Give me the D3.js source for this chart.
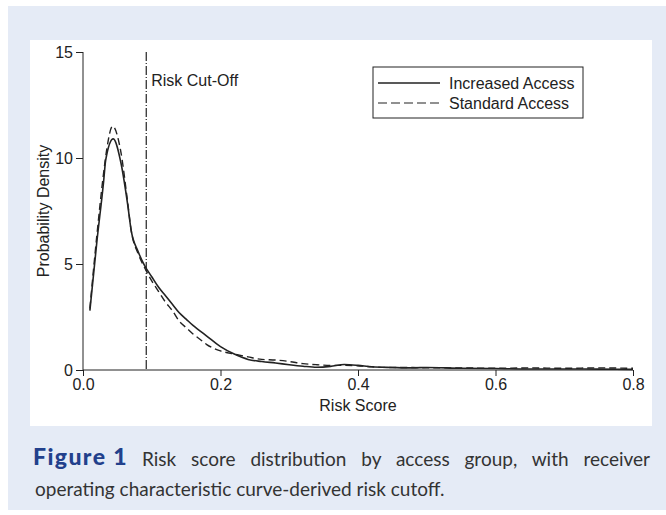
<!DOCTYPE html>
<html>
<head>
<meta charset="utf-8">
<script src="https://cdn.jsdelivr.net/npm/d3@7"></script>
<style>
	body { margin: 0; background: #fff; }
	.cap { position: absolute; font-family: Lato, "Open Sans", sans-serif; font-size: 19px; line-height: 24px; color: #333; white-space: nowrap; }
	.fig { left: 33px; top: 444px; color: #22408c; font-weight: 900; font-size: 23px; letter-spacing: 1.4px; }
	.line1 { left: 142px; top: 447px; width: 508px; text-align: justify; text-align-last: justify; white-space: normal; }
	.line2 { left: 35px; top: 477px; }
</style>
</head>
<body>
<div class="stimulus"></div>
<script>
// values
var incX = [0.01, 0.02, 0.03, 0.033, 0.044, 0.055, 0.065, 0.07, 0.08, 0.09, 0.1, 0.11, 0.12, 0.13, 0.14, 0.15, 0.16, 0.17, 0.18, 0.2, 0.22, 0.24, 0.26, 0.28, 0.3, 0.32, 0.34, 0.36, 0.38, 0.4, 0.42, 0.45, 0.48, 0.5, 0.55, 0.6, 0.65, 0.7, 0.75, 0.8];
var incY = [2.8, 6.0, 8.9, 9.9, 10.9, 9.8, 7.8, 6.6, 5.6, 4.9, 4.4, 3.9, 3.5, 3.1, 2.7, 2.4, 2.1, 1.85, 1.6, 1.1, 0.75, 0.5, 0.4, 0.33, 0.25, 0.18, 0.13, 0.17, 0.26, 0.22, 0.15, 0.12, 0.1, 0.12, 0.08, 0.07, 0.05, 0.05, 0.04, 0.03];
var stdX = [0.01, 0.02, 0.03, 0.035, 0.043, 0.055, 0.065, 0.07, 0.08, 0.09, 0.1, 0.11, 0.12, 0.13, 0.14, 0.15, 0.16, 0.17, 0.18, 0.2, 0.22, 0.24, 0.26, 0.28, 0.3, 0.32, 0.34, 0.36, 0.38, 0.4, 0.42, 0.45, 0.48, 0.5, 0.55, 0.6, 0.65, 0.7, 0.75, 0.8];
var stdY = [2.9, 6.3, 9.3, 10.5, 11.5, 10.3, 7.9, 6.6, 5.5, 4.8, 4.2, 3.7, 3.2, 2.8, 2.3, 2.0, 1.7, 1.45, 1.2, 0.9, 0.75, 0.62, 0.5, 0.47, 0.4, 0.3, 0.25, 0.22, 0.22, 0.2, 0.15, 0.12, 0.12, 0.1, 0.1, 0.08, 0.1, 0.08, 0.1, 0.08];
var cutOff = 0.092;
var xTicks = [0, 0.2, 0.4, 0.6, 0.8];
var yTicks = [0, 5, 10, 15];
var legendNames = ["Increased Access", "Standard Access"];
var captionLines = ["Risk score distribution by access group, with receiver", "operating characteristic curve-derived risk cutoff."];

var W = 666, H = 515;
var stage = d3.select(".stimulus").insert("svg")
			  .attr("width", W)
			  .attr("height", H)
			  .style("position", "absolute")
			  .style("left", 0).style("top", 0);

// page background + white panel
stage.append("rect").attr("x", 8).attr("y", 6).attr("width", W - 8).attr("height", 504).style("fill", "#e5ebf6");
stage.append("rect").attr("x", 30).attr("y", 40).attr("width", 622).attr("height", 386).style("fill", "#fff");

var x = d3.scaleLinear().domain([0, 0.8]).range([83, 633]);
var y = d3.scaleLinear().domain([0, 15]).range([370, 52]);
var font = "Liberation Sans, Arial, sans-serif";

var xAxis = stage.append("g").attr("transform", "translate(0,370)")
	.call(d3.axisBottom(x).tickValues(xTicks).tickFormat(d3.format(".1f")).tickSize(6).tickPadding(3));
var yAxis = stage.append("g").attr("transform", "translate(83,0)")
	.call(d3.axisLeft(y).tickValues(yTicks).tickSize(7).tickPadding(3));
stage.selectAll(".domain").style("stroke", "#222");
stage.selectAll(".tick line").style("stroke", "#222");
stage.selectAll(".tick text").style("font-family", font).style("font-size", "16px").style("fill", "#222");
xAxis.select(".domain").attr("d", "M83,0H633");
yAxis.select(".domain").attr("d", "M0,370V52");

stage.append("text").attr("x", 358).attr("y", 411).attr("text-anchor", "middle")
	 .style("font-family", font).style("font-size", "16px").style("fill", "#222").text("Risk Score");
stage.append("text").attr("transform", "translate(49,211) rotate(-90)").attr("text-anchor", "middle")
	 .style("font-family", font).style("font-size", "16px").style("fill", "#222").text("Probability Density");

// cut-off line
stage.append("line").attr("x1", x(cutOff)).attr("x2", x(cutOff)).attr("y1", y(15)).attr("y2", y(0))
	 .style("stroke", "#222").style("stroke-width", 1.2).style("stroke-dasharray", "9,2,1,2");
stage.append("text").attr("x", x(cutOff) + 5).attr("y", 86)
	 .style("font-family", font).style("font-size", "16px").style("fill", "#222").text("Risk Cut-Off");

var line = d3.line().x(function(d) { return x(d[0]); }).y(function(d) { return y(d[1]); }).curve(d3.curveMonotoneX);
stage.append("path").datum(d3.zip(stdX, stdY)).attr("d", line)
	 .style("fill", "none").style("stroke", "#222").style("stroke-width", 1.4).style("stroke-dasharray", "7,4");
stage.append("path").datum(d3.zip(incX, incY)).attr("d", line)
	 .style("fill", "none").style("stroke", "#222").style("stroke-width", 1.6);

// legend
stage.append("rect").attr("x", 373).attr("y", 67).attr("width", 210).attr("height", 51)
	 .style("fill", "#fff").style("stroke", "#222").style("stroke-width", 1);
legendNames.forEach(function(name, i) {
	var ly = 83 + i * 20;
	stage.append("line").attr("x1", 378).attr("x2", 440).attr("y1", ly).attr("y2", ly)
		 .style("stroke", "#222").style("stroke-width", i ? 1.2 : 1.6).style("stroke-dasharray", i ? "9,4" : null);
	stage.append("text").attr("x", 449).attr("y", ly + 6)
		 .style("font-family", font).style("font-size", "16px").style("fill", "#222").text(name);
});

// caption
d3.select("body").append("div").attr("class", "cap fig").text("Figure 1");
d3.select("body").append("div").attr("class", "cap line1").text(captionLines[0]);
d3.select("body").append("div").attr("class", "cap line2").text(captionLines[1]);
</script>
</body>
</html>
